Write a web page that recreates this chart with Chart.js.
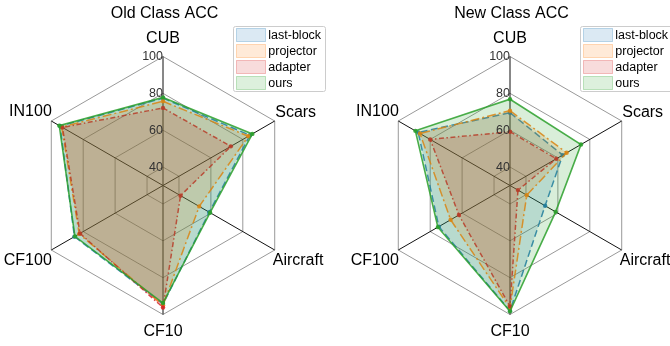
<!DOCTYPE html>
<html>
<head>
<meta charset="utf-8">
<script src="https://cdn.jsdelivr.net/npm/chart.js@4/dist/chart.umd.min.js"></script>
<style>
  html, body { margin: 0; padding: 0; background: #fff; }
  #wrap { position: relative; width: 670px; height: 346px; overflow: hidden; }
  .panel { position: absolute; top: 0; width: 335px; height: 346px; }
</style>
</head>
<body>
<div id="wrap">
  <div class="panel" style="left:0"><canvas id="oldChart" width="335" height="346"></canvas></div>
  <div class="panel" style="left:335px"><canvas id="newChart" width="335" height="346"></canvas></div>
</div>
<script>
// Benchmarks around the radar, clockwise from the top
const axisLabels = ['CUB', 'Scars', 'Aircraft', 'CF10', 'CF100', 'IN100'];
const methodNames = ['last-block', 'projector', 'adapter', 'ours'];
const radialTicks = [40, 60, 80, 100];
const radialMin = 30;
const radialMax = 100;

// Old-class accuracy per benchmark
const oldLastBlock = [77.4, 84.5, 59.0, 94.3, 85.5, 94.5];
const oldProjector = [75.7, 83.5, 52.7, 95.0, 82.5, 93.5];
const oldAdapter   = [72.1, 72.5, 41.0, 96.2, 82.0, 93.0];
const oldOurs      = [77.8, 86.0, 59.5, 93.8, 85.2, 95.0];

// New-class accuracy per benchmark
const newLastBlock = [69.5, 63.0, 52.0, 98.0, 74.6, 87.5];
const newProjector = [70.6, 65.5, 40.5, 96.5, 67.2, 86.4];
const newAdapter   = [59.2, 59.0, 35.0, 95.6, 62.0, 80.0];
const newOurs      = [76.8, 74.5, 58.6, 98.3, 75.2, 89.3];

const seriesColors = ['31,119,180', '255,127,14', '214,39,40', '44,160,44'];
const seriesDash = [[7, 3.5], [9, 3, 2, 3], [5, 2.5, 1.5, 2.5], []];
const seriesWidth = [1.5, 1.5, 1.5, 1.6];

const FONT = '"Liberation Sans", Arial, Helvetica, sans-serif';

function buildDatasets(values) {
  return values.map((data, i) => ({
    label: methodNames[i],
    data: data,
    borderColor: 'rgba(' + seriesColors[i] + ',0.85)',
    backgroundColor: 'rgba(' + seriesColors[i] + ',0.18)',
    borderWidth: seriesWidth[i],
    borderDash: seriesDash[i],
    fill: 'start',
    tension: 0,
    pointRadius: 2.2,
    pointBorderWidth: 0,
    pointBackgroundColor: 'rgba(' + seriesColors[i] + ',0.9)',
    order: values.length - 1 - i,
    clip: false
  }));
}

// Fixes the radar's centre and radius, then draws titles, axis names,
// tick values and the legend box.
const radarFrame = {
  id: 'radarFrame',
  afterLayout(chart, args, opts) {
    const s = chart.scales.r;
    s.xCenter = opts.cx;
    s.yCenter = opts.cy;
    s.drawingArea = opts.R;
  },
  afterDatasetsDraw(chart, args, opts) {
    const ctx = chart.ctx;
    const s = chart.scales.r;
    const cx = s.xCenter, cy = s.yCenter;
    ctx.save();

    // tick values along the top axis
    ctx.font = '12.5px ' + FONT;
    ctx.fillStyle = '#333';
    ctx.textAlign = 'right';
    ctx.textBaseline = 'middle';
    radialTicks.forEach(v => {
      const d = s.getDistanceFromCenterForValue(v);
      ctx.fillText(String(v), cx, cy - d + 0.5);
    });

    // benchmark names
    ctx.font = '16px ' + FONT;
    ctx.fillStyle = '#000';
    const outer = s.getDistanceFromCenterForValue(radialMax);
    axisLabels.forEach((lab, i) => {
      const p = s.getPointPosition(i, outer);
      let x = p.x, y = p.y, align = 'center';
      if (i === 0) { y = p.y - 17.5; }
      else if (i === 3) { y = p.y + 17.5; }
      else if (i === 1) { align = 'left'; x = p.x + 0.5; y = p.y - 8.5; }
      else if (i === 2) { align = 'left'; x = p.x - 2; y = p.y + 10.5; }
      else if (i === 4) { align = 'right'; x = p.x + 0.5; y = p.y + 10.5; }
      else if (i === 5) { align = 'right'; x = p.x + 0.5; y = p.y - 9.5; }
      ctx.textAlign = align;
      ctx.textBaseline = 'middle';
      ctx.fillText(lab, x, y);
    });

    // panel title
    ctx.font = '16px ' + FONT;
    ctx.textAlign = 'center';
    ctx.textBaseline = 'middle';
    ctx.fillText(opts.title, cx + 1.5, 13.5);

    // legend box
    const lx = cx + 70.5, ly = 26.5, lw = 92, lh = 65;
    ctx.fillStyle = 'rgba(255,255,255,0.85)';
    ctx.strokeStyle = '#cccccc';
    ctx.lineWidth = 1;
    ctx.beginPath();
    ctx.roundRect(lx, ly, lw, lh, 2);
    ctx.fill();
    ctx.stroke();
    ctx.font = '12.5px ' + FONT;
    ctx.textAlign = 'left';
    ctx.textBaseline = 'middle';
    methodNames.forEach((name, i) => {
      const py = 28 + i * 16;
      ctx.fillStyle = 'rgba(' + seriesColors[i] + ',0.16)';
      ctx.strokeStyle = 'rgba(' + seriesColors[i] + ',0.28)';
      ctx.fillRect(cx + 73.5, py + 0.5, 29, 13);
      ctx.strokeRect(cx + 73.5, py + 0.5, 29, 13);
      ctx.fillStyle = '#000';
      ctx.fillText(name, cx + 105.3, py + 7.5);
    });
    ctx.restore();
  }
};

function makeRadar(canvasId, values, title, cx) {
  return new Chart(document.getElementById(canvasId), {
    type: 'radar',
    data: { labels: axisLabels, datasets: buildDatasets(values) },
    plugins: [radarFrame],
    options: {
      responsive: false,
      animation: false,
      events: [],
      layout: { padding: 0 },
      plugins: {
        legend: { display: false },
        title: { display: false },
        tooltip: { enabled: false },
        radarFrame: { cx: cx, cy: 185.5, R: 129, title: title }
      },
      elements: { line: { tension: 0 } },
      scales: {
        r: {
          min: radialMin,
          max: radialMax,
          afterBuildTicks: (scale) => {
            scale.ticks = [radialMin].concat(radialTicks).map(v => ({ value: v }));
          },
          ticks: { display: false },
          pointLabels: { display: false },
          grid: { color: '#999999', lineWidth: 1 },
          angleLines: { color: '#111111', lineWidth: 1 }
        }
      }
    }
  });
}

makeRadar('oldChart', [oldLastBlock, oldProjector, oldAdapter, oldOurs], 'Old Class ACC', 163);
makeRadar('newChart', [newLastBlock, newProjector, newAdapter, newOurs], 'New Class ACC', 175);
</script>
</body>
</html>
